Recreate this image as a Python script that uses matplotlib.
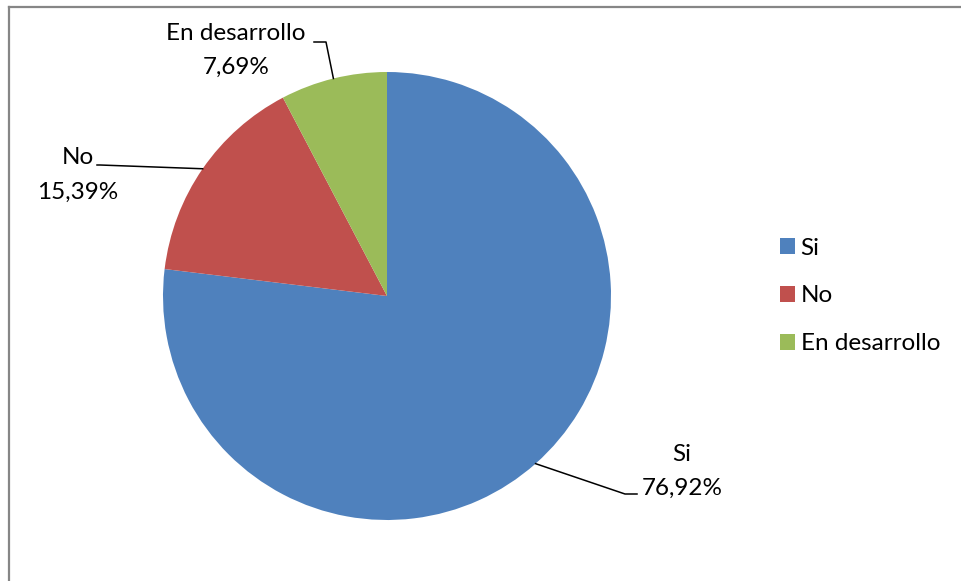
import matplotlib
matplotlib.use("Agg")
import matplotlib.pyplot as plt
from matplotlib.lines import Line2D
import numpy as np

categories = ["Si", "No", "En desarrollo"]
values = [76.92, 15.39, 7.69]
colors = ["#4F81BD", "#C0504D", "#9BBB59"]

W, H = 961, 581
plt.rcParams["font.family"] = ["Lato", "DejaVu Sans"]

fig = plt.figure(figsize=(W / 100, H / 100), dpi=100)

# pie centre (387, 296) px, radius 224 px
cx, cy, r = 387, 296, 224
ax = fig.add_axes([(cx - r) / W, 1 - (cy + r) / H, 2 * r / W, 2 * r / H])
wedges, _ = ax.pie(values, colors=colors, startangle=90, counterclock=False,
                   radius=1, wedgeprops=dict(linewidth=0))
ax.set_xlim(-1, 1)
ax.set_ylim(-1, 1)
ax.set_aspect("equal")
ax.axis("off")


def px(x, y):
    return (x - cx) / r, (cy - y) / r


FS = 17.5

# label text positions (px) and leader elbows (px)
label_pos = {"Si": (682, 471.5), "No": (78, 175), "En desarrollo": (236, 50.5)}
leader = {
    "Si": [(637, 494), (625, 494)],
    "No": [(97, 165), (100, 165)],
    "En desarrollo": [(314, 42), (326, 42)],
}

for w, cat, val in zip(wedges, categories, values):
    mid = np.deg2rad((w.theta1 + w.theta2) / 2)
    ex, ey = np.cos(mid), np.sin(mid)
    pts = [px(*p) for p in leader[cat]] + [(ex, ey)]
    xs, ys = zip(*pts)
    ax.plot(xs, ys, color="black", lw=1.1, clip_on=False)
    tx, ty = px(*label_pos[cat])
    txt = f"{cat}\n{val:.2f}%".replace(".", ",")
    ax.text(tx, ty, txt, ha="center", va="center", fontsize=FS,
            linespacing=1.8, color="black", clip_on=False)

leg = fig.legend(wedges, categories, loc="center left",
                 bbox_to_anchor=(768 / W, 1 - 296 / H), frameon=False,
                 fontsize=FS, handlelength=0.62, handleheight=0.62,
                 handletextpad=0.22, labelspacing=1.1, borderpad=0)

# chart-area border (top and left edges visible)
fig.add_artist(Line2D([8.5 / W, 1], [1 - 6.5 / H, 1 - 6.5 / H], color="#868686", lw=1.6))
fig.add_artist(Line2D([8.5 / W, 8.5 / W], [1 - 6.5 / H, 0], color="#868686", lw=1.6))

fig.savefig("out.png", dpi=100)
